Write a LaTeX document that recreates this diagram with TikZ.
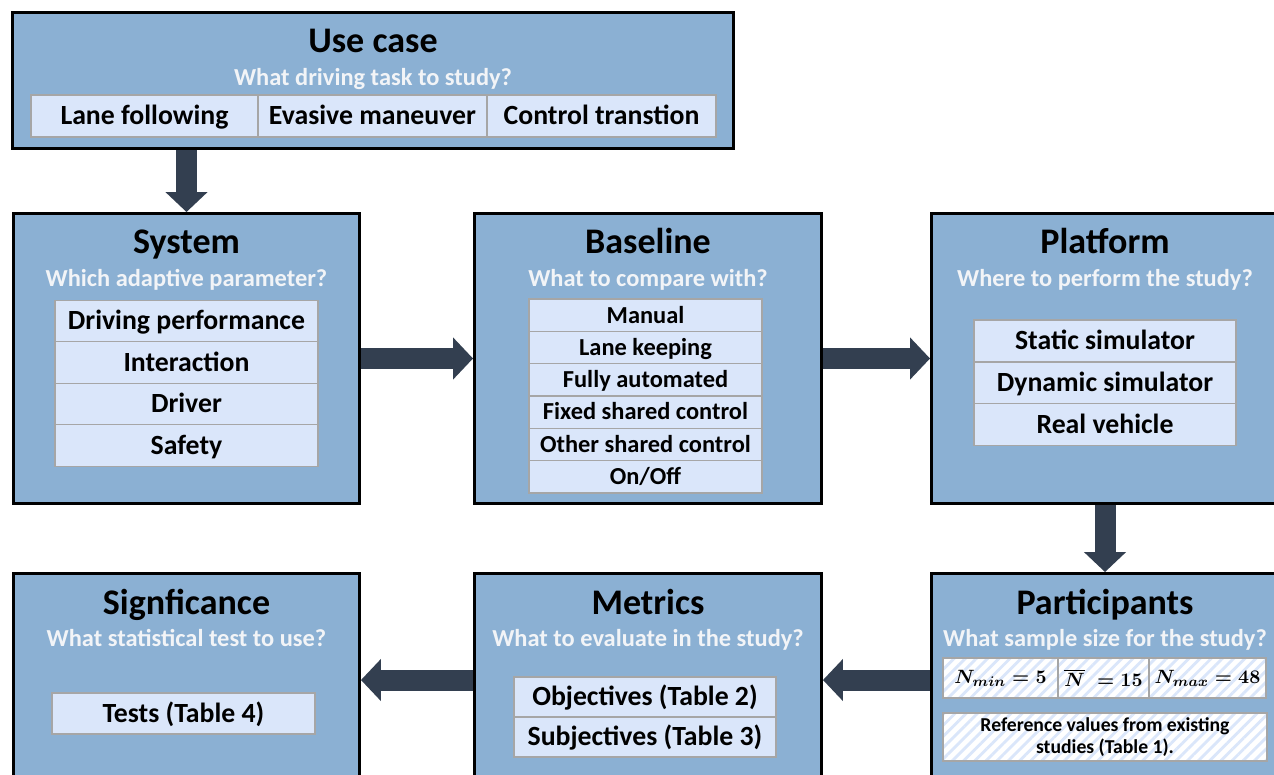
\documentclass[tikz,border=0pt]{standalone}
\usepackage{fontspec}
\setmainfont{Carlito}
\usepackage{amsmath,bm}
\usetikzlibrary{arrows.meta,patterns.meta}
\definecolor{boxblue}{RGB}{139,176,211}
\definecolor{cellblue}{RGB}{218,230,250}
\definecolor{cellline}{RGB}{166,166,166}
\definecolor{subtxt}{RGB}{242,244,247}
\definecolor{arrowc}{RGB}{51,63,80}

\begin{document}
\begin{tikzpicture}[x=0.02cm,y=-0.02cm,
  box/.style={draw=black,line width=1.7pt,fill=boxblue,inner sep=0pt},
  title/.style={font=\fontsize{20.5}{24}\selectfont\bfseries,inner sep=0pt,text height=13.2pt,text depth=0pt},
  quest/.style={text=subtxt,font=\fontsize{13.9}{16}\selectfont\bfseries,inner sep=0pt,text height=8.95pt,text depth=0pt},
  cell/.style={draw=cellline,line width=0.8pt,fill=cellblue,inner sep=0pt,text height=10.2pt,text depth=0pt,
    font=\fontsize{15.8}{18}\selectfont\bfseries},
  small/.style={font=\fontsize{13.9}{16}\selectfont\bfseries,text height=8.95pt},
  hatch/.style={draw=cellline,line width=0.8pt,inner sep=0pt,preaction={fill=white},
    pattern={Lines[angle=45,distance=4.5pt,line width=1.6pt]},pattern color=cellblue},
  mathcell/.style={hatch,minimum height=0.8cm,font=\fontsize{10.8}{13}\selectfont\boldmath},
  flow/.style={draw=arrowc,line width=0.42cm,-{Triangle[width=0.82cm,length=0.4cm]}}]
\clip (0,0) rectangle (1274,774);
\fill[white] (0,0) rectangle (1274,774);
\node[box,minimum width=14.42cm,minimum height=2.72cm] (usecase) at (373,80.5) {};
\node[box,minimum width=6.92cm,minimum height=5.8cm] (system) at (186.5,358.5) {};
\node[box,minimum width=6.94cm,minimum height=5.8cm] (baseline) at (648,358.5) {};
\node[box,minimum width=6.94cm,minimum height=5.8cm] (platform) at (1105,358.5) {};
\node[box,minimum width=6.92cm,minimum height=5.8cm] (signif) at (186.5,718.5) {};
\node[box,minimum width=6.94cm,minimum height=5.8cm] (metrics) at (648,718.5) {};
\node[box,minimum width=6.94cm,minimum height=5.8cm] (particip) at (1105,718.5) {};
\node[title] (t-usecase) at (373,41) {Use case};
\node[quest] (q-usecase) at (373,77.5) {What driving task to study?};
\node[cell,minimum width=4.54cm,minimum height=0.84cm] (lane) at (144.5,116) {Lane following};
\node[cell,minimum width=4.58cm,minimum height=0.84cm] (evasive) at (372.5,116) {Evasive maneuver};
\node[cell,minimum width=4.58cm,minimum height=0.84cm] (transit) at (601.5,116) {Control transtion};
\node[title] (t-system) at (186.5,241.5) {System};
\node[quest] (q-system) at (186.5,279) {Which adaptive parameter?};
\node[cell,minimum width=5.26cm,minimum height=0.83cm] (perf) at (186.5,321) {Driving performance};
\node[cell,minimum width=5.26cm,minimum height=0.83cm] (interact) at (186.5,362.5) {Interaction};
\node[cell,minimum width=5.26cm,minimum height=0.83cm] (driver) at (186.5,404) {Driver};
\node[cell,minimum width=5.26cm,minimum height=0.83cm] (safety) at (186.5,445.5) {Safety};
\node[title] (t-baseline) at (648,241.5) {Baseline};
\node[quest] (q-baseline) at (648,279) {What to compare with?};
\node[cell,small,minimum width=4.66cm,minimum height=0.646cm] (manual) at (645.5,315.2) {Manual};
\node[cell,small,minimum width=4.66cm,minimum height=0.646cm] (keeping) at (645.5,347.5) {Lane keeping};
\node[cell,small,minimum width=4.66cm,minimum height=0.646cm] (fully) at (645.5,379.8) {Fully automated};
\node[cell,small,minimum width=4.66cm,minimum height=0.646cm] (fixed) at (645.5,412.1) {Fixed shared control};
\node[cell,small,minimum width=4.66cm,minimum height=0.646cm] (other) at (645.5,444.4) {Other shared control};
\node[cell,small,minimum width=4.66cm,minimum height=0.646cm] (onoff) at (645.5,476.7) {On/Off};
\node[title] (t-platform) at (1105,241.5) {Platform};
\node[quest] (q-platform) at (1105,279) {Where to perform the study?};
\node[cell,minimum width=5.24cm,minimum height=0.834cm] (static) at (1105,341) {Static simulator};
\node[cell,minimum width=5.24cm,minimum height=0.834cm] (dynamic) at (1105,382.7) {Dynamic simulator};
\node[cell,minimum width=5.24cm,minimum height=0.834cm] (real) at (1105,424.4) {Real vehicle};
\node[title] (t-particip) at (1105,602.5) {Participants};
\node[quest] (q-particip) at (1105,639) {What sample size for the study?};
\node[mathcell,minimum width=2.3cm] (nmin) at (1000.5,678) {$N_{min}=5$};
\node[mathcell,minimum width=1.82cm] (nmean) at (1103.5,678) {$\overline{N}\;=15$};
\node[mathcell,minimum width=2.34cm] (nmax) at (1207.5,678) {$N_{max}=48$};
\node[hatch,minimum width=6.48cm,minimum height=0.96cm,align=center,font=\fontsize{11.2}{12.6}\selectfont\bfseries] (refval) at (1105,737) {Reference values from existing\\studies (Table 1).};
\node[title] (t-metrics) at (648,602.5) {Metrics};
\node[quest] (q-metrics) at (648,639) {What to evaluate in the study?};
\node[cell,minimum width=5.24cm,minimum height=0.8cm] (object) at (645,697) {Objectives (Table 2)};
\node[cell,minimum width=5.24cm,minimum height=0.8cm] (subject) at (645,737) {Subjectives (Table 3)};
\node[title] (t-signif) at (186.5,602.5) {Signficance};
\node[quest] (q-signif) at (186.5,639) {What statistical test to use?};
\node[cell,minimum width=5.26cm,minimum height=0.82cm] (tests) at (183.5,713.5) {Tests (Table 4)};
\draw[flow] (usecase.south -| system.north) -- (system.north);
\draw[flow] (system.east) -- (baseline.west);
\draw[flow] (baseline.east) -- (platform.west);
\draw[flow] (platform.south) -- (particip.north);
\draw[flow] ([yshift=0.77cm]particip.west) -- ([yshift=0.77cm]metrics.east);
\draw[flow] ([yshift=0.77cm]metrics.west) -- ([yshift=0.77cm]signif.east);
\end{tikzpicture}
\end{document}
